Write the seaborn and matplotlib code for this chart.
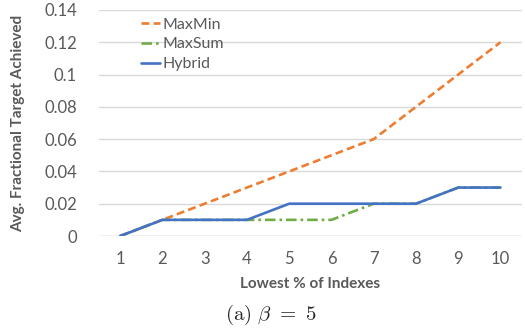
import matplotlib
matplotlib.use("Agg")
import matplotlib.pyplot as plt
import seaborn as sns
import pandas as pd

x_vals = [1, 2, 3, 4, 5, 6, 7, 8, 9, 10]
maxmin = [0, 0.01, 0.02, 0.03, 0.04, 0.05, 0.06, 0.08, 0.10, 0.12]
maxsum = [0, 0.01, 0.01, 0.01, 0.01, 0.01, 0.02, 0.02, 0.03, 0.03]
hybrid = [0, 0.01, 0.01, 0.01, 0.02, 0.02, 0.02, 0.02, 0.03, 0.03]
series_names = ["MaxMin", "MaxSum", "Hybrid"]
y_ticks = [0, 0.02, 0.04, 0.06, 0.08, 0.1, 0.12, 0.14]
y_tick_labels = ["0", "0.02", "0.04", "0.06", "0.08", "0.1", "0.12", "0.14"]

df = pd.DataFrame({
    "x": x_vals * 3,
    "y": maxmin + maxsum + hybrid,
    "series": [s for s in series_names for _ in x_vals],
})

sns.set_theme(style="white")
plt.rcParams["font.family"] = ["Lato", "DejaVu Sans"]
plt.rcParams["mathtext.fontset"] = "cm"

fig = plt.figure(figsize=(5.25, 3.31), dpi=100)
ax = fig.add_axes([0.1886, 0.287, 0.805, 0.683])

palette = {"MaxMin": "#ED7D31", "MaxSum": "#70AD47", "Hybrid": "#4472C4"}
dashes = {"MaxMin": (3, 1.6), "MaxSum": (4, 1.5, 1, 1.5), "Hybrid": ""}
sns.lineplot(data=df, x="x", y="y", hue="series", style="series",
             palette=palette, dashes=dashes, linewidth=1.9, ax=ax,
             hue_order=series_names, style_order=series_names)

ax.set_xlim(0.5, 10.5)
ax.set_ylim(0, 0.14)
ax.set_xticks(x_vals)
ax.set_xticklabels([str(v) for v in x_vals])
ax.set_yticks(y_ticks)
ax.set_yticklabels(y_tick_labels)
ax.tick_params(axis="both", colors="#595959", labelsize=12, length=0)
ax.tick_params(axis="x", pad=11)
ax.tick_params(axis="y", pad=16)
for lbl in ax.get_yticklabels():
    lbl.set_horizontalalignment("right")
ax.yaxis.grid(True, color="#D9D9D9", linewidth=1)
ax.xaxis.grid(False)
for s in ax.spines.values():
    s.set_visible(False)
ax.axhline(0, color="#D9D9D9", linewidth=1, zorder=0)

ax.set_xlabel("Lowest % of Indexes", fontsize=11, fontweight="bold", color="#595959", labelpad=7)
ax.set_ylabel("Avg. Fractional Target Achieved", fontsize=11, fontweight="bold", color="#595959")
ax.yaxis.set_label_coords(-0.175, 0.5)

leg = ax.legend(loc="upper left", bbox_to_anchor=(0.065, 1.03), frameon=False,
                fontsize=11.5, handlelength=1.2, handletextpad=0.15,
                labelspacing=0.35)
for t in leg.get_texts():
    t.set_color("#595959")

fig.text(0.515, 0.05, r"$\mathrm{(a)}\ \beta\ =\ 5$", ha="center", va="center", fontsize=15)

fig.savefig("out.png", dpi=100)
